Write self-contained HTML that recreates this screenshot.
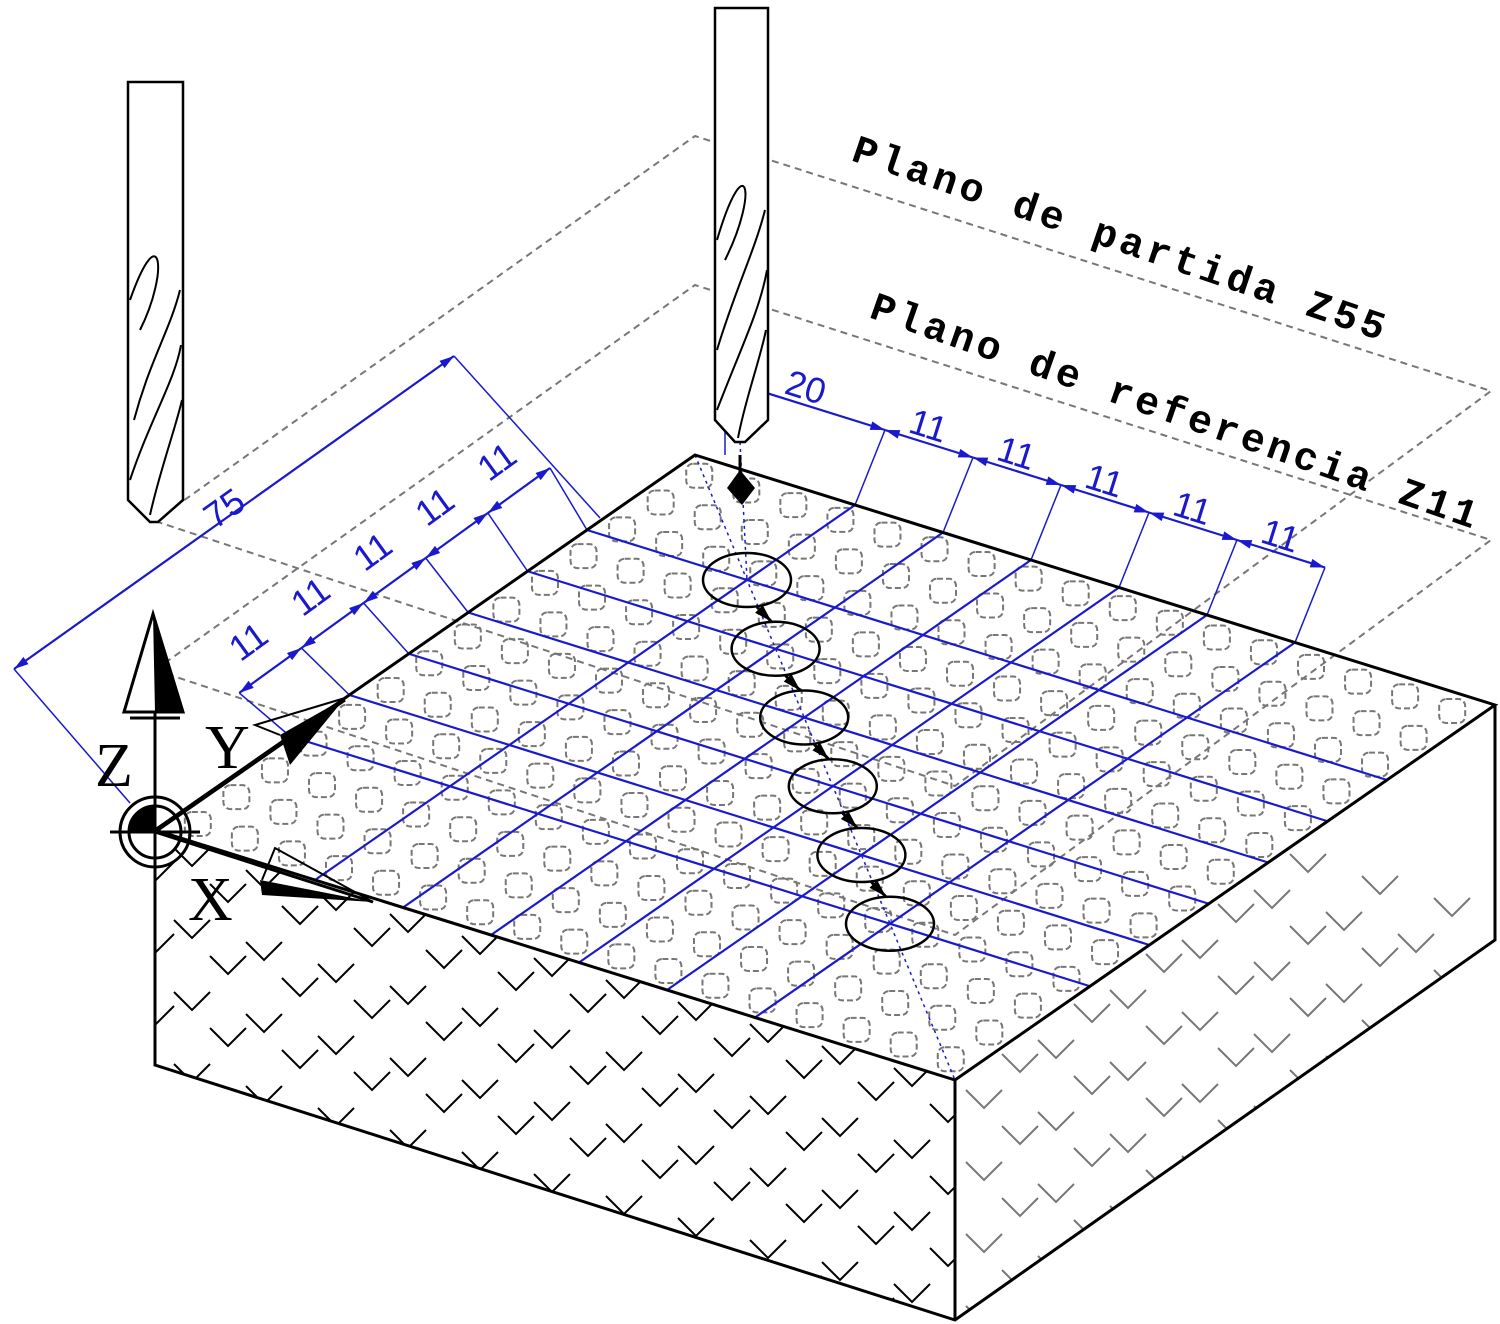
<!DOCTYPE html>
<html><head><meta charset="utf-8"><style>
html,body{margin:0;padding:0;background:#fff;width:1500px;height:1324px;overflow:hidden}
svg{display:block}
.lbl{font-family:"Liberation Mono",monospace;font-weight:bold;font-size:40px;fill:#000}
.dim{font-family:"Liberation Sans",sans-serif;font-size:36px;fill:#1a1acc}
.ax{font-family:"Liberation Serif",serif;font-size:62px;fill:#000}
</style></head><body>
<svg id="s" width="1500" height="1324" viewBox="0 0 1500 1324" xmlns="http://www.w3.org/2000/svg">
<defs>
<clipPath id="cf"><polygon points="155,830 955,1080 955,1320 155,1065"/></clipPath>
<clipPath id="cr"><polygon points="955,1080 1495,705 1495,940 955,1320"/></clipPath>
<clipPath id="ct"><polygon points="155,830 695,455 1495,705 955,1080"/></clipPath>
<marker id="ab" viewBox="0 0 10 6" refX="10" refY="3" markerWidth="7" markerHeight="4" orient="auto-start-reverse"><path d="M0,0L10,3L0,6z" fill="#1a1acc"/></marker>
<marker id="ak" viewBox="0 0 10 6" refX="10" refY="3" markerWidth="6" markerHeight="4" orient="auto"><path d="M0,0L10,3L0,6z" fill="#000"/></marker>
</defs>
<g id="planes" fill="none" stroke="#777" stroke-width="2" stroke-dasharray="7,5">
<polygon points="155,521 695,136 1491,391 955,786"/>
<polygon points="155,670 695,285 1491,540 955,935"/>
</g>
<g id="faces"></g>
<g id="grid"></g>
<g id="box" fill="none" stroke="#000" stroke-width="3">
<polygon points="155,830 695,455 1495,705 955,1080"/>
<polyline points="155,830 155,1065 955,1320 1495,940 1495,705"/>
<line x1="955" y1="1080" x2="955" y2="1320"/>
</g>
<g id="holes"></g>
<g id="dims"></g>
<g fill="#fff" stroke="#000" stroke-width="2.5">
<path d="M128,82 L183,82 L183,500 L158,522 L150,522 L128,500 Z"/>
<path d="M130,300 C160,215 170,270 140,330 M134,420 C150,360 170,330 180,290 M130,480 C150,420 175,380 181,345 M150,515 C160,470 175,430 182,400" fill="none" stroke-width="2"/>
</g>
<g fill="#fff" stroke="#000" stroke-width="2.5">
<path d="M715,8 L768,8 L768,420 L745,442 L735,442 L715,420 Z"/>
<path d="M717,240 C745,145 760,190 725,260 M717,350 C735,290 755,250 765,210 M717,410 C740,350 760,310 767,270 M738,438 C745,400 760,360 766,330" fill="none" stroke-width="2"/>
</g>
<g>
<line x1="155" y1="620" x2="155" y2="1065" stroke="#000" stroke-width="3"/>
<line x1="110" y1="832" x2="200" y2="832" stroke="#000" stroke-width="3"/>
<line x1="130" y1="718" x2="180" y2="718" stroke="#000" stroke-width="3"/>
<path d="M153,614 L124,712 L183,712 Z" fill="#fff" stroke="#000" stroke-width="3"/>
<path d="M153,614 L155,712 L183,712 Z" fill="#000"/>
<line x1="155" y1="832" x2="345" y2="700" stroke="#000" stroke-width="3"/>
<path d="M345,698 L280,735 L290,765 Z" fill="#000"/>
<path d="M345,698 L255,725 L280,735" fill="none" stroke="#000" stroke-width="2"/>
<line x1="155" y1="832" x2="373" y2="902" stroke="#000" stroke-width="3"/>
<path d="M373,902 L260,880 L262,895 Z" fill="#000"/>
<path d="M373,902 L275,848 L262,880" fill="none" stroke="#000" stroke-width="2"/>
<circle cx="155" cy="832" r="35" fill="none" stroke="#000" stroke-width="3"/>
<circle cx="155" cy="832" r="26" fill="none" stroke="#000" stroke-width="3"/>
<path d="M155,832 L129,832 A26,26 0 0 1 155,806 Z" fill="#000"/>
<text class="ax" x="95" y="786">Z</text>
<text class="ax" x="205" y="768">Y</text>
<text class="ax" x="188" y="920">X</text>
</g>
<text class="lbl" transform="translate(850,160) rotate(18.8)" textLength="560">Plano de partida Z55</text>
<text class="lbl" transform="translate(868,317) rotate(19.3)" textLength="640">Plano de referencia Z11</text>
</svg>
<script>
const xPositions = [20, 31, 42, 53, 64, 75];
const yPositions = [20, 31, 42, 53, 64, 75];
const xDimLabels = ['20', '11', '11', '11', '11', '11'];
const yDimLabels = ['11', '11', '11', '11', '11'];
const yTotalLabel = '75';
const holeX = [20, 31, 42, 53, 64, 75];
const holeY = [20, 31, 42, 53, 64, 75];

const NS = 'http://www.w3.org/2000/svg';
const B = [695, 455], EX = [8, 2.5], EY = [-5.4, 3.75];
function P(x, y) { return [B[0] + x * EX[0] + y * EY[0], B[1] + x * EX[1] + y * EY[1]]; }
function topTick(x) { const p = P(x, 0); return [p[0] + 30, p[1] - 75]; }
function sideTick(y) { return [550 + (y - 20) * -5.65, 468 + (y - 20) * 4.09]; }
function mk(parent, tag, attrs) { const e = document.createElementNS(NS, tag); for (const k in attrs) e.setAttribute(k, attrs[k]); parent.appendChild(e); return e; }
function line(parent, a, b, st) { return mk(parent, 'line', Object.assign({x1: a[0], y1: a[1], x2: b[0], y2: b[1]}, st)); }

const faces = document.getElementById('faces');
const gt = mk(faces, 'g', {'clip-path': 'url(#ct)', fill: 'none', stroke: '#777', 'stroke-width': 2, 'stroke-dasharray': '6,3'});


for (let i = 0; i < 17; i++) for (let j = 0; j < 14; j++) {
  const c = P((i + 0.5) * 100 / 17, (j + 0.5) * 100 / 14);
  mk(gt, 'rect', {x: c[0] - 13, y: c[1] - 12, width: 26, height: 24, rx: 7});
}
const gf = mk(faces, 'g', {'clip-path': 'url(#cf)', fill: 'none', stroke: '#000', 'stroke-width': 2});


const gr = mk(faces, 'g', {'clip-path': 'url(#cr)', fill: 'none', stroke: '#777', 'stroke-width': 2});


for (let i = -5; i < 30; i++) for (let j = -5; j < 20; j++) {
  const cx = 120 + i * 72 + (j % 2 ? 36 : 0), cy = 700 + j * 36 + i * 22;
  const d = `M${cx-18},${cy-18} L${cx},${cy} L${cx+18},${cy-18}`;
  if (cx < 960) mk(gf, 'path', {d}); else mk(gr, 'path', {d});
}

const grid = document.getElementById('grid');
const blue = {stroke: '#1a1acc', 'stroke-width': 2.2};
const thin = {stroke: '#1a1acc', 'stroke-width': 1.5};
xPositions.forEach(x => {
  const l = line(grid, P(x, 0), P(x, 100), blue);
  
  
  line(grid, P(x, 0), topTick(x), thin);
});
yPositions.forEach(y => {
  const l = line(grid, P(0, y), P(100, y), blue);
  
  
  line(grid, P(0, y), sideTick(y), thin);
});
line(grid, P(0, 0), P(100, 100), {stroke: '#1a1acc', 'stroke-width': 1.5, 'stroke-dasharray': '3,4'});
line(grid, [740, 442], P(holeX[0], holeY[0]), {stroke: '#1a1acc', 'stroke-width': 1.5, 'stroke-dasharray': '3,4'});

const dims = document.getElementById('dims');
line(dims, [725, 360], [725, 455], thin);
const ticksX = [0].concat(xPositions);
for (let k = 0; k < ticksX.length - 1; k++) {
  const a = topTick(ticksX[k]), b = topTick(ticksX[k + 1]);
  const l = line(dims, a, b, Object.assign({'marker-start': 'url(#ab)', 'marker-end': 'url(#ab)'}, blue));
  
  
  const m = [(a[0] + b[0]) / 2, (a[1] + b[1]) / 2];
  const t = mk(dims, 'text', {class: 'dim', transform: `translate(${m[0] - 22},${m[1] - 12}) rotate(17.4)`});
  t.textContent = xDimLabels[k];
  
  
}
for (let k = 0; k < yPositions.length - 1; k++) {
  const a = sideTick(yPositions[k]), b = sideTick(yPositions[k + 1]);
  const l = line(dims, a, b, Object.assign({'marker-start': 'url(#ab)', 'marker-end': 'url(#ab)'}, blue));
  
  
  const m = [(a[0] + b[0]) / 2, (a[1] + b[1]) / 2];
  const t = mk(dims, 'text', {class: 'dim', transform: `translate(${m[0] - 30},${m[1] - 8}) rotate(-35.9)`});
  t.textContent = yDimLabels[k];
  
  
}
const d75a = [14, 669], d75b = [454, 356];
const l75 = line(dims, d75a, d75b, Object.assign({'marker-start': 'url(#ab)', 'marker-end': 'url(#ab)'}, blue));


line(dims, d75b, [600, 518], thin);
line(dims, d75a, [130, 803], thin);
const t75 = mk(dims, 'text', {class: 'dim', transform: 'translate(215,530) rotate(-35.4)'});
t75.textContent = yTotalLabel;



const holes = document.getElementById('holes');
holeX.forEach((x, k) => {
  const c = P(x, holeY[k]);
  const e = mk(holes, 'ellipse', {cx: c[0], cy: c[1], rx: 44, ry: 27, fill: 'none', stroke: '#000', 'stroke-width': 2.5});
  
  
  if (k < holeX.length - 1) {
    const n = P(holeX[k + 1], holeY[k + 1]);
    const a = line(holes, [c[0] + 10, c[1] + 27], [n[0] - 4, n[1] - 27], {stroke: '#000', 'stroke-width': 3, 'marker-end': 'url(#ak)'});
    
    
  }
});
const dd = mk(holes, 'path', {d: 'M740,470 L755,488 L742,505 L727,488 Z', fill: '#000'});


line(holes, [740, 455], [740, 475], {stroke: '#000', 'stroke-width': 3});
</script>
</body></html>
